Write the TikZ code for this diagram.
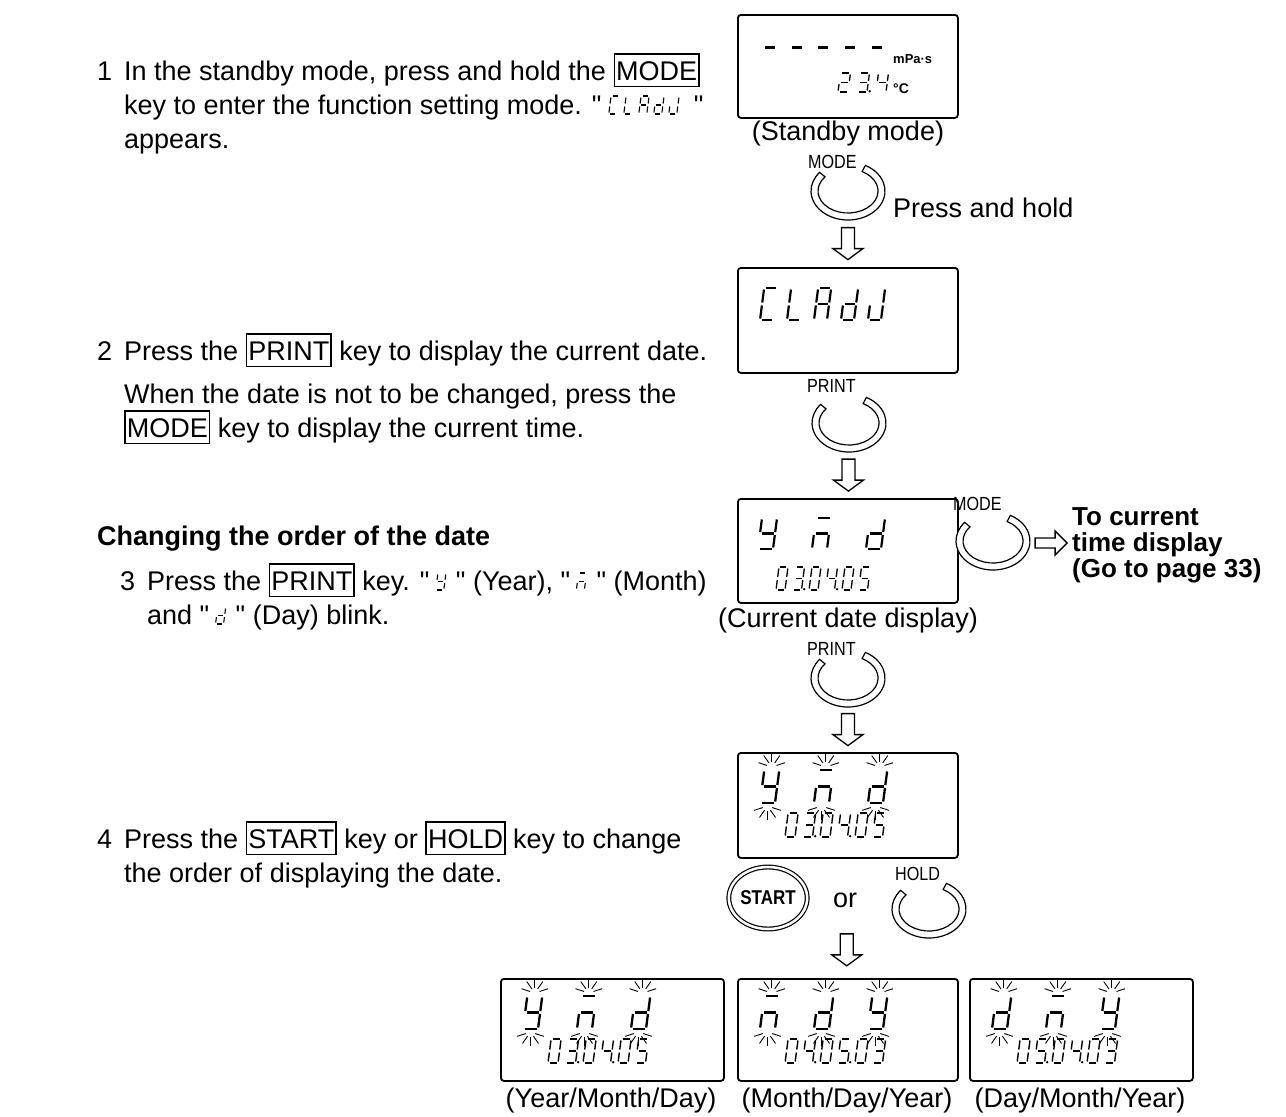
\documentclass[tikz,border=0pt]{standalone}
\usepackage{fontspec}
\setmainfont{Liberation Sans}
\newfontfamily\narrowfont{Liberation Sans}[FakeStretch=0.85]
\newfontfamily\qfont{Liberation Sans}
\usetikzlibrary{calc,shapes.geometric}

\newcommand\qq{{\qfont"}}
\newcommand\lcdgap{1.5}
\newcommand\sA{\draw[lcdseg] (\lcdgap,\lcdH) -- ({\lcdW-\lcdgap},\lcdH);}
\newcommand\sB{\draw[lcdseg] (\lcdW,{\lcdH-\lcdgap}) -- (\lcdW,{\lcdH/2+\lcdgap});}
\newcommand\sC{\draw[lcdseg] (\lcdW,{\lcdH/2-\lcdgap}) -- (\lcdW,\lcdgap);}
\newcommand\sD{\draw[lcdseg] (\lcdgap,0) -- ({\lcdW-\lcdgap},0);}
\newcommand\sE{\draw[lcdseg] (0,\lcdgap) -- (0,{\lcdH/2-\lcdgap});}
\newcommand\sF{\draw[lcdseg] (0,{\lcdH/2+\lcdgap}) -- (0,{\lcdH-\lcdgap});}
\newcommand\sG{\draw[lcdseg] (\lcdgap,{\lcdH/2}) -- ({\lcdW-\lcdgap},{\lcdH/2});}
\newcommand\sP{\fill ({\lcdW+2.6},0.8) circle[radius=1.3];}
\newcommand\dZero{\sA\sB\sC\sD\sE\sF}
\newcommand\dTwo{\sA\sB\sG\sE\sD}
\newcommand\dThree{\sA\sB\sG\sC\sD}
\newcommand\dFour{\sF\sG\sB\sC}
\newcommand\dFive{\sA\sF\sG\sC\sD}
\newcommand\cY{\sF\sB\sG\sC\sD}
\newcommand\cM{\sA\sG\sE\sC}
\newcommand\cD{\sB\sC\sD\sE\sG}
\newcommand\cC{\sA\sF\sE\sD}
\newcommand\cL{\sF\sE\sD}
\newcommand\cA{\sA\sB\sC\sE\sF\sG}
\newcommand\cJ{\sB\sC\sD\sE}
% one LCD character: #1 coordinate name, #2 x offset, #3 width, #4 height, #5 line width, #6 segments
\newcommand\lcdc[6]{\begin{scope}[shift={(#1)},xshift=#2,xslant=0.13,yscale=-1,lcdseg/.style={line width=#5}]\def\lcdW{#3}\def\lcdH{#4}#6\end{scope}}
% row of LCD characters
\newcommand\lcdrow[6]{\def\lcdrowc{#1}\def\lcdrowp{#2}\def\lcdroww{#3}\def\lcdrowh{#4}\def\lcdrowlw{#5}#6}
\newcommand\ch[2]{\lcdc{\lcdrowc}{{#1*\lcdrowp}}{\lcdroww}{\lcdrowh}{\lcdrowlw}{#2}}
% blinking rays round a character
\newcommand\blink[4]{\begin{scope}[shift={(#1)},xshift=#2]
  \foreach \a in {-18,-55,-90,-125,-162} \draw[ray] ({#3/2+0.13*#4},{-#4-3}) ++(\a:5) -- ++(\a:9);
  \foreach \a in {18,55,90,125,162} \draw[ray] ({#3/2},3) ++(\a:5) -- ++(\a:9);
\end{scope}}
\newcommand\kb[1]{{\fboxsep=1pt\fboxrule=1.6pt\fbox{\rule[-4.5pt]{0pt}{29pt}#1}}}

\tikzset{
 ringkey/.pic={\draw[line width=1.2pt,fill=white] (-62:37 and 29) arc[start angle=-62,end angle=220,x radius=37,y radius=29] -- (220:30 and 22) arc[start angle=220,end angle=-62,x radius=30,y radius=22] -- cycle;},
 downarrow/.pic={\draw[hollow] (-6.5,-16) -- (6.5,-16) -- (6.5,5) -- (15,5) -- (0,16) -- (-15,5) -- (-6.5,5) -- cycle;},
 rightarrow/.pic={\draw[hollow] (-16,-5) -- (4,-5) -- (4,-12) -- (16,0) -- (4,12) -- (4,5) -- (-16,5) -- cycle;},
 hollow/.style={draw,line width=1.3pt,fill=white,line join=miter},
 ray/.style={line width=0.9pt},
 lcdseg/.style={line width=2pt},
 lcdbox/.style={draw,line width=1.8pt,rounded corners=3pt,minimum width=220pt,minimum height=104pt,inner sep=0,anchor=north west},
 txt/.style={anchor=base west,inner sep=0,font=\fontsize{27}{32}\selectfont},
 lbltxt/.style={inner sep=0,font=\fontsize{27}{32}\selectfont},
 keylbl/.style={anchor=base west,inner sep=0,font=\narrowfont\fontsize{19}{20}\selectfont},
 ringnode/.style={inner sep=0,minimum width=74pt,minimum height=58pt},
}

\begin{document}
\begin{tikzpicture}[x=1pt,y=-1pt]
\path[use as bounding box,fill=white] (0,0) rectangle (1286,1117);

% ---------- left text ----------
\node[txt] (n1) at (97,80) {1};
\node[txt] (t1a) at (124,80) {In the standby mode, press and hold the \kb{MODE}};
\node[txt] (t1b) at (124,114) {key to enter the function setting mode. \qq};
\coordinate (il1) at ($(t1b.base east)+(7,0)$);
\lcdrow{il1}{15}{8}{18}{1.1pt}{\ch{0}{\cC}\ch{1}{\cL}\ch{2}{\cA}\ch{3}{\cD}\ch{4}{\cJ}}
\node[txt] (t1c) at ($(t1b.base east)+(92,0)$) {\qq};
\node[txt] (t1d) at (124,148) {appears.};

\node[txt] (n2) at (97,360) {2};
\node[txt] (t2a) at (124,360) {Press the \kb{PRINT} key to display the current date.};
\node[txt] (t2b) at (124,403) {When the date is not to be changed, press the};
\node[txt] (t2c) at (124,437) {\kb{MODE} key to display the current time.};

\node[txt,font=\bfseries\fontsize{27}{32}\selectfont] (hd) at (97,545) {Changing the order of the date};

\node[txt] (n3) at (120,590) {3};
\node[txt] (t3a) at (147,590) {Press the \kb{PRINT} key. \qq};
\coordinate (il3y) at ($(t3a.base east)+(6,0)$);
\lcdc{il3y}{0}{8}{17}{1.1pt}{\cY}
\node[txt] (t3b) at ($(t3a.base east)+(26,0)$) {\qq{} (Year), \qq};
\coordinate (il3m) at ($(t3b.base east)+(6,0)$);
\lcdc{il3m}{0}{8}{17}{1.1pt}{\cM}
\node[txt] (t3c) at ($(t3b.base east)+(26,0)$) {\qq{} (Month)};
\node[txt] (t3d) at (147,624) {and \qq};
\coordinate (il3d) at ($(t3d.base east)+(6,0)$);
\lcdc{il3d}{0}{8}{17}{1.1pt}{\cD}
\node[txt] (t3e) at ($(t3d.base east)+(26,0)$) {\qq{} (Day) blink.};

\node[txt] (n4) at (97,848) {4};
\node[txt] (t4a) at (124,848) {Press the \kb{START} key or \kb{HOLD} key to change};
\node[txt] (t4b) at (124,882) {the order of displaying the date.};

% ---------- standby box ----------
\node[lcdbox,minimum height=103pt] (b1) at (737,14) {};
\foreach \i in {0,...,4} \draw[line width=3pt] ({765+26.7*\i},47) -- ++(10,0);
\node[anchor=base west,inner sep=0,font=\bfseries\fontsize{13}{14}\selectfont] (mpas) at (893,63) {mPa·s};
\coordinate (sb) at (838,92);
\lcdrow{sb}{19}{10}{19}{1.3pt}{\ch{0}{\dTwo}\ch{1}{\dThree\sP}\ch{2}{\dFour}}
\node[anchor=base west,inner sep=0,font=\bfseries\fontsize{14}{14}\selectfont] (degc) at (893,93) {°C};
\node[lbltxt] (c1) at (848,134) {(Standby mode)};

\node[keylbl] (m1) at (808,168) {MODE};
\node[ringnode] (k1) at (848,191) {};
\pic at (k1) {ringkey};
\node[txt] (ph) at (893,217) {Press and hold};

% ---------- CLAdJ box ----------
\node[lcdbox,minimum height=105pt] (b2) at (737,267) {};
\path (k1.south) -- (b2.north) coordinate[midway] (a1);
\pic at (a1) {downarrow};
\coordinate (bg2) at (760,320);
\lcdrow{bg2}{27}{13}{32}{2.2pt}{\ch{0}{\cC}\ch{1}{\cL}\ch{2}{\cA}\ch{3}{\cD}\ch{4}{\cJ}}

\node[keylbl] (p1) at (807,392) {PRINT};
\node[ringnode] (k2) at (849,423) {};
\pic at (k2) {ringkey};

% ---------- current date box ----------
\node[lcdbox,minimum height=104pt] (b3) at (737,498) {};
\path (k2.south) -- (b3.north) coordinate[midway] (a2);
\pic at (a2) {downarrow};
\coordinate (bg3) at (758,549);
\lcdrow{bg3}{54}{15}{31}{2.2pt}{\ch{0}{\cY}\ch{1}{\cM}\ch{2}{\cD}}
\coordinate (dg3) at (776,590);
\lcdrow{dg3}{16.5}{9}{23}{1.3pt}{\ch{0}{\dZero}\ch{1}{\dThree\sP}\ch{2}{\dZero}\ch{3}{\dFour\sP}\ch{4}{\dZero}\ch{5}{\dFive}}

\node[keylbl] (m2) at (953,510) {MODE};
\node[ringnode] (k3) at (993,541) {};
\pic at (k3) {ringkey};
\node[anchor=west,align=left,inner sep=0,font=\bfseries\fontsize{26}{26}\selectfont] (tc) at (1072,545) {To current\\time display\\(Go to page 33)};
\path (k3.east) -- (tc.west) coordinate[midway] (a3);
\pic at (a3) {rightarrow};

\node[lbltxt] (c3) at (848,621) {(Current date display)};
\node[keylbl] (p2) at (807,655) {PRINT};
\node[ringnode] (k4) at (848,678) {};
\pic at (k4) {ringkey};

% ---------- blinking box ----------
\node[lcdbox,minimum height=105pt] (b4) at (737,752) {};
\path (k4.south) -- (b4.north) coordinate[midway] (a4);
\pic at (a4) {downarrow};
\coordinate (bg4) at (760,803);
\lcdrow{bg4}{54}{15}{33}{2.3pt}{\ch{0}{\cY}\ch{1}{\cM}\ch{2}{\cD}}
\blink{bg4}{0}{15}{33}\blink{bg4}{54}{15}{33}\blink{bg4}{108}{15}{33}
\coordinate (dg4) at (785,837);
\lcdrow{dg4}{17.5}{10}{24}{1.4pt}{\ch{0}{\dZero}\ch{1}{\dThree\sP}\ch{2}{\dZero}\ch{3}{\dFour\sP}\ch{4}{\dZero}\ch{5}{\dFive}}

\node[draw,ellipse,double,double distance=2.5pt,line width=1.2pt,minimum width=76pt,minimum height=62pt,inner sep=0,font=\narrowfont\bfseries\fontsize{20}{20}\selectfont] (st) at (768,898) {START};
\node[lbltxt] (orr) at (845,900) {or};
\node[keylbl] (hl) at (895,880) {HOLD};
\node[ringnode] (k5) at (929,909) {};
\pic at (k5) {ringkey};

% ---------- three result boxes ----------
\node[lcdbox,minimum width=223pt,minimum height=102pt] (b5a) at (500,978) {};
\node[lcdbox,minimum height=102pt] (b5b) at (737,978) {};
\node[lcdbox,minimum width=223pt,minimum height=102pt] (b5c) at (969,978) {};
\path (orr.south) -- (b5b.north) coordinate[pos=0.6] (a5);
\pic at (a5) {downarrow};

\coordinate (bg5a) at (523,1029);
\lcdrow{bg5a}{54}{15}{33}{2.3pt}{\ch{0}{\cY}\ch{1}{\cM}\ch{2}{\cD}}
\blink{bg5a}{0}{15}{33}\blink{bg5a}{54}{15}{33}\blink{bg5a}{108}{15}{33}
\coordinate (dg5a) at (548,1063);
\lcdrow{dg5a}{17.5}{10}{24}{1.4pt}{\ch{0}{\dZero}\ch{1}{\dThree\sP}\ch{2}{\dZero}\ch{3}{\dFour\sP}\ch{4}{\dZero}\ch{5}{\dFive}}

\coordinate (bg5b) at (760,1029);
\lcdrow{bg5b}{54}{15}{33}{2.3pt}{\ch{0}{\cM}\ch{1}{\cD}\ch{2}{\cY}}
\blink{bg5b}{0}{15}{33}\blink{bg5b}{54}{15}{33}\blink{bg5b}{108}{15}{33}
\coordinate (dg5b) at (785,1063);
\lcdrow{dg5b}{17.5}{10}{24}{1.4pt}{\ch{0}{\dZero}\ch{1}{\dFour\sP}\ch{2}{\dZero}\ch{3}{\dFive\sP}\ch{4}{\dZero}\ch{5}{\dThree}}

\coordinate (bg5c) at (992,1029);
\lcdrow{bg5c}{54}{15}{33}{2.3pt}{\ch{0}{\cD}\ch{1}{\cM}\ch{2}{\cY}}
\blink{bg5c}{0}{15}{33}\blink{bg5c}{54}{15}{33}\blink{bg5c}{108}{15}{33}
\coordinate (dg5c) at (1017,1063);
\lcdrow{dg5c}{17.5}{10}{24}{1.4pt}{\ch{0}{\dZero}\ch{1}{\dFive\sP}\ch{2}{\dZero}\ch{3}{\dFour\sP}\ch{4}{\dZero}\ch{5}{\dThree}}

\node[lbltxt] (l5a) at (611,1101) {(Year/Month/Day)};
\node[lbltxt] (l5b) at (847,1101) {(Month/Day/Year)};
\node[lbltxt] (l5c) at (1080,1101) {(Day/Month/Year)};
\end{tikzpicture}
\end{document}
